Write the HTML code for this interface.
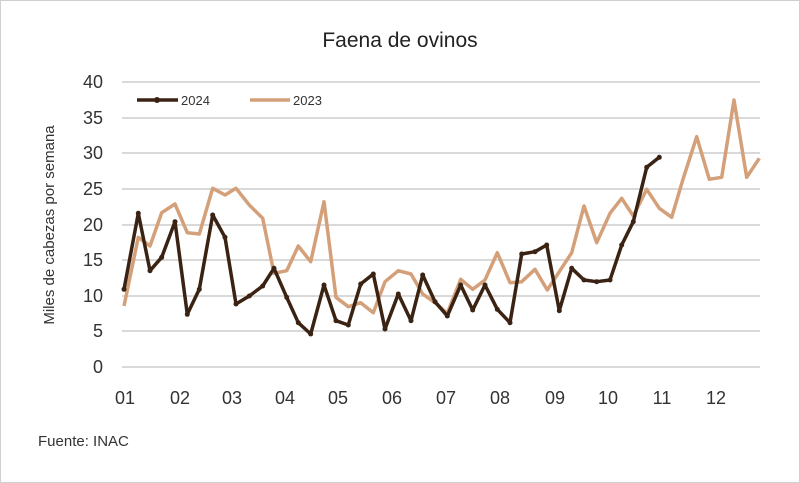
<!DOCTYPE html>
<html><head><style>body{margin:0;background:#fff}svg{display:block}text{font-family:"Liberation Sans",sans-serif}</style></head><body>
<svg width="800" height="483" viewBox="0 0 800 483">
<rect x="0.5" y="0.5" width="799" height="482" fill="#fff" stroke="#d0d0d0"/>
<text x="400" y="47" font-size="21" text-anchor="middle" fill="#222">Faena de ovinos</text>
<g stroke="#d9d9d9" stroke-width="2">
<line x1="122" x2="760" y1="82" y2="82"/><line x1="122" x2="760" y1="118" y2="118"/><line x1="122" x2="760" y1="153" y2="153"/><line x1="122" x2="760" y1="189" y2="189"/><line x1="122" x2="760" y1="225" y2="225"/><line x1="122" x2="760" y1="260" y2="260"/><line x1="122" x2="760" y1="296" y2="296"/><line x1="122" x2="760" y1="331" y2="331"/><line x1="122" x2="760" y1="367" y2="367"/>
</g>
<g font-size="18" fill="#333" text-anchor="end">
<text x="103" y="88">40</text><text x="103" y="124">35</text><text x="103" y="159">30</text><text x="103" y="195">25</text><text x="103" y="231">20</text><text x="103" y="266">15</text><text x="103" y="302">10</text><text x="103" y="337">5</text><text x="103" y="373">0</text>
</g>
<g font-size="18" fill="#333" text-anchor="middle">
<text x="125" y="404">01</text><text x="180" y="404">02</text><text x="232" y="404">03</text><text x="285" y="404">04</text><text x="338" y="404">05</text><text x="392" y="404">06</text><text x="446" y="404">07</text><text x="500" y="404">08</text><text x="555" y="404">09</text><text x="608" y="404">10</text><text x="662" y="404">11</text><text x="716" y="404">12</text>
</g>
<text transform="translate(54,225) rotate(-90)" font-size="15" fill="#333" text-anchor="middle">Miles de cabezas por semana</text>
<text x="38" y="446" font-size="15" fill="#333">Fuente: INAC</text>
<polyline fill="none" stroke="#d4a07a" stroke-width="3.5" stroke-linejoin="round" points="124,306 138.3,237.3 150,246 161.7,212.7 175,204 187.3,232.7 199.3,234 212.7,188.3 225,195 236,188.3 249.3,205 262.7,218.3 274,273.3 286.7,270.7 298.3,246 310.7,261.7 324,201.7 336,297.3 348.3,306.7 360.7,302.7 373.3,312.7 385,281.7 398.3,270.7 411,274 422.7,294 435,302.7 447.3,313.3 460.7,279.3 472.7,289.3 485,280 497.3,252.7 510,282.7 521.7,281.7 535,269.3 547.3,290 559.3,271.7 571.7,252.7 584,206 596.7,242.7 610,213.3 621.7,198.3 633.3,216 646.7,189.3 659.3,208.3 671.7,217.3 683.3,178.3 696.7,136.7 709.3,179.3 721.7,177.3 734,100 746.7,177.3 759.3,158.3"/>
<polyline fill="none" stroke="#3b2314" stroke-width="3.5" stroke-linejoin="round" stroke-linecap="round" marker-start="url(#m)" marker-mid="url(#m)" marker-end="url(#m)" points="124,289.3 138.3,213.3 150,270.7 161.7,257.3 175,221.7 187.3,314.3 199.3,289.3 212.7,215 225,237.3 236,304 249.3,296 262.7,286 274,268.3 286.7,297.3 298.3,322.7 310.7,334 324,285 336,320.7 348.3,325 360.7,284 373.3,274 385,329 398.3,294 411,320.7 422.7,275 435,301.7 447.3,316 460.7,285 472.7,310 485,285 497.3,309.3 510,322.7 521.7,254 535,251.7 546.7,245 559.3,310.7 571.7,268.3 584,280 596.7,281.7 610,280 621.7,245 633.3,221.7 646.7,167.3 659.3,157.3"/>
<defs><marker id="m" markerWidth="6" markerHeight="6" refX="3" refY="3" markerUnits="userSpaceOnUse"><circle cx="3" cy="3" r="2.5" fill="#3b2314"/></marker></defs>
<line x1="137" x2="178" y1="100" y2="100" stroke="#3b2314" stroke-width="3.5"/>
<circle cx="157" cy="100" r="3" fill="#3b2314"/>
<text x="181" y="105" font-size="13" fill="#333">2024</text>
<line x1="250" x2="290" y1="100" y2="100" stroke="#d4a07a" stroke-width="3.5"/>
<text x="293" y="105" font-size="13" fill="#333">2023</text>
</svg>
</body></html>
